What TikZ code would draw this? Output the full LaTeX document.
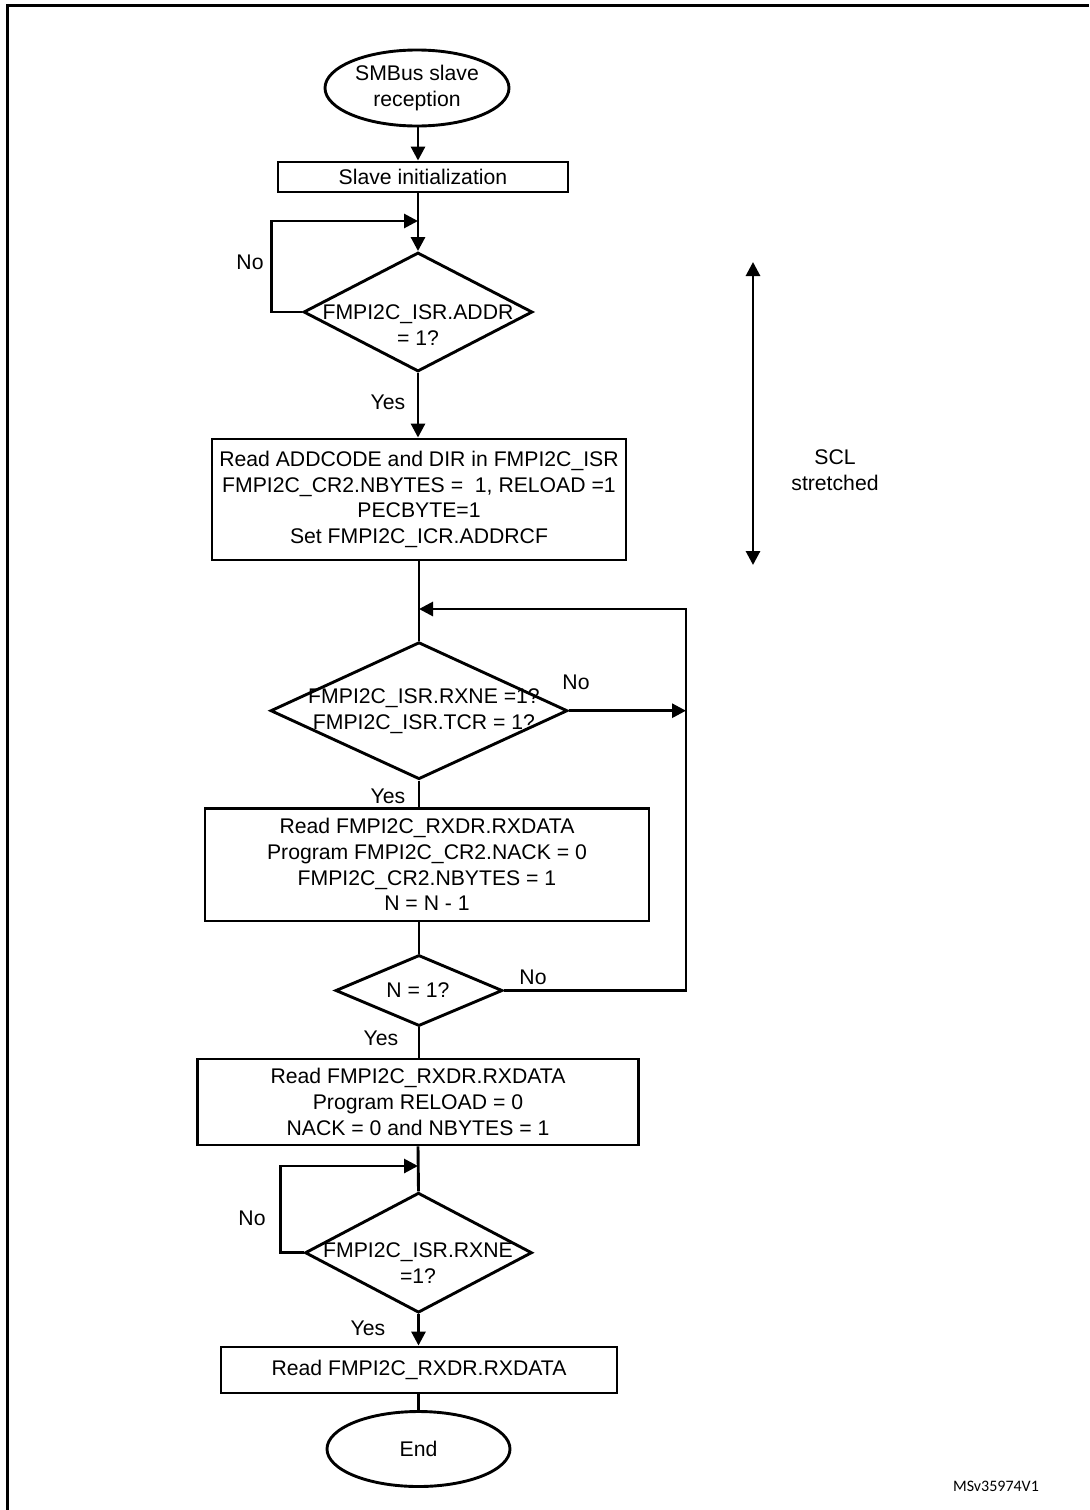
\documentclass[tikz,border=0pt]{standalone}
\usepackage{fontspec}
\setmainfont{Liberation Sans}
\newfontfamily\tagfont{Carlito}
\usetikzlibrary{shapes,arrows.meta,positioning,calc}

\begin{document}
\begin{tikzpicture}[x=0.5pt,y=-0.5pt,line width=1.45pt,
	>={Triangle[length=7pt,width=7pt]},
	every node/.style={font=\fontsize{10.6pt}{12.8pt}\selectfont},
	block/.style={rectangle,draw,align=center,inner sep=0pt},
	decision/.style={diamond,draw,inner sep=0pt},
	term/.style={ellipse,draw,align=center,inner sep=0pt},
	txt/.style={align=center,inner sep=0pt}]
\useasboundingbox (0,0) rectangle (1089,1510);
\draw[line width=1.5pt] (7,1510) -- (7,5) -- (1089,5);

\node [term,minimum width=92pt,minimum height=38pt] (start) at (417,88) {SMBus slave\\reception};
\node [block,minimum width=145pt,minimum height=15pt] (init) at (423,177) {Slave initialization};
\node [decision,minimum width=114.5pt,minimum height=59.5pt] (d1) at (418,312) {};
\node [txt] (d1t) at (418,325) {FMPI2C\_ISR.ADDR\\= 1?};
\node [block,minimum width=207pt,minimum height=60.5pt] (box1) at (419,499.5) {Read ADDCODE and DIR in FMPI2C\_ISR\\FMPI2C\_CR2.NBYTES =~~1, RELOAD =1\\PECBYTE=1\\Set FMPI2C\_ICR.ADDRCF};
\node [decision,minimum width=148.5pt,minimum height=68.5pt] (d2) at (419,710.7) {};
\node [txt] (d2t) at (424,711) {FMPI2C\_ISR.RXNE =1?\\FMPI2C\_ISR.TCR = 1?};
\node [block,minimum width=222pt,minimum height=56.3pt] (box2) at (427,864.7) {Read FMPI2C\_RXDR.RXDATA\\Program FMPI2C\_CR2.NACK = 0\\FMPI2C\_CR2.NBYTES = 1\\N = N - 1};
\node [decision,minimum width=83.5pt,minimum height=35.5pt] (d3) at (419,990.5) {};
\node [txt] (d3t) at (418,990.5) {N = 1?};
\node [block,minimum width=220.5pt,minimum height=43pt] (box3) at (418,1102) {Read FMPI2C\_RXDR.RXDATA\\Program RELOAD = 0\\NACK = 0 and NBYTES = 1};
\node [decision,minimum width=113.5pt,minimum height=60pt] (d4) at (418.5,1252.7) {};
\node [txt] (d4t) at (418,1263) {FMPI2C\_ISR.RXNE\\=1?};
\node [block,minimum width=198pt,minimum height=23pt] (box4) at (419,1370) {Read FMPI2C\_RXDR.RXDATA};
\node [term,minimum width=91.5pt,minimum height=37.5pt] (end) at (418.5,1449) {End};

% yes / no labels
\node [txt] (no1) at (250,262) {No};
\node [txt] (yes1) at (388,402) {Yes};
\node [txt] (no2) at (576,682) {No};
\node [txt] (yes2) at (388,796) {Yes};
\node [txt] (no3) at (533,977) {No};
\node [txt] (yes3) at (381,1038) {Yes};
\node [txt] (no4) at (252,1218) {No};
\node [txt] (yes4) at (368,1328) {Yes};

\coordinate (j1) at (418,221);
\coordinate (j2) at (419,609);
\coordinate (r2) at (686,609);
\coordinate (j4) at (418,1166);

\draw[->] (start.south -| d1.north) -- (init.north -| d1.north);
\draw[->] (init.south -| d1.north) -- (d1.north);
\draw[->] (d1.west) -- ++(-31,0) |- (j1);
\draw[->] (d1.south) -- (d1.south |- box1.north);
\draw (box1.south -| d2.north) -- (d2.north);
\draw[->] (d2.east) -- (d2.east -| r2);
\draw[->] (d3.east) -| (r2) -- (j2);
\draw (d2.south) -- (d2.south |- box2.north);
\draw (box2.south -| d3.north) -- (d3.north);
\draw (d3.south) -- (box3.north -| d3.south);
\draw (box3.south) -- (d4.north);
\draw[->] (d4.west) -- ++(-23,0) |- (j4);
\draw[->] (d4.south) -- (d4.south |- box4.north);
\draw (box4.south -| end.north) -- (end.north);

% clock stretching
\coordinate (sclA) at (753,262);
\coordinate (sclB) at (753,565);
\draw[<->] (sclA) -- (sclB);
\node [txt] (scl) at (835,470) {SCL\\stretched};

\node [font=\tagfont\fontsize{8pt}{9pt}\selectfont] (tag) at (996,1486) {MSv35974V1};
\end{tikzpicture}
\end{document}
